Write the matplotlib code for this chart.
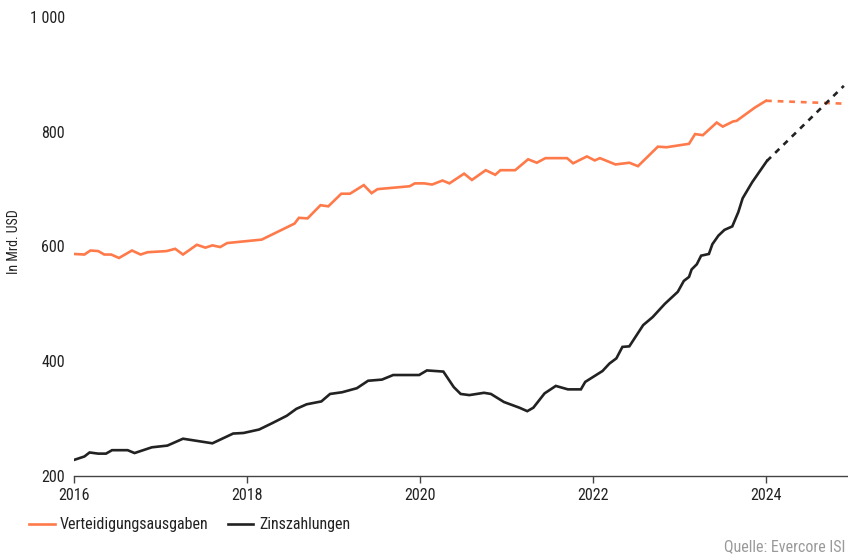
import matplotlib
matplotlib.use("Agg")
import matplotlib.pyplot as plt
from matplotlib.lines import Line2D

plt.rcParams['font.family'] = ['Liberation Sans Narrow', 'Roboto Condensed', 'DejaVu Sans']

# Verteidigungsausgaben (orange)
def_x = [2016.0, 2016.12, 2016.19, 2016.28, 2016.35, 2016.43, 2016.52, 2016.67, 2016.77, 2016.85,
         2017.07, 2017.17, 2017.26, 2017.42, 2017.52, 2017.6, 2017.69, 2017.77, 2018.17, 2018.55,
         2018.6, 2018.7, 2018.85, 2018.94, 2019.09, 2019.19, 2019.35, 2019.44, 2019.51, 2019.88,
         2019.94, 2020.05, 2020.14, 2020.26, 2020.34, 2020.51, 2020.6, 2020.76, 2020.87, 2020.93,
         2021.1, 2021.25, 2021.35, 2021.45, 2021.7, 2021.77, 2021.93, 2022.02, 2022.08, 2022.26,
         2022.42, 2022.52, 2022.75, 2022.85, 2023.11, 2023.18, 2023.27, 2023.43, 2023.5, 2023.62,
         2023.66, 2023.87, 2024.0]
def_y = [587, 586, 593, 592, 586, 586, 580, 593, 586, 590,
         592, 596, 586, 603, 598, 602, 599, 606, 612, 640,
         650, 649, 672, 670, 692, 692, 707, 693, 700, 705,
         710, 710, 708, 715, 710, 727, 716, 733, 725, 733,
         733, 752, 746, 754, 754, 745, 757, 750, 754, 743,
         746, 740, 774, 773, 779, 796, 794, 816, 809, 818,
         819, 842, 854]
def_proj_x = [2024.0, 2024.9]
def_proj_y = [854, 849]

# Zinszahlungen (schwarz)
int_x = [2016.0, 2016.12, 2016.18, 2016.28, 2016.37, 2016.44, 2016.62, 2016.7, 2016.9, 2017.08,
         2017.26, 2017.6, 2017.84, 2017.96, 2018.14, 2018.29, 2018.46, 2018.57, 2018.69, 2018.86,
         2018.96, 2019.1, 2019.27, 2019.4, 2019.56, 2019.69, 2019.99, 2020.08, 2020.27, 2020.39,
         2020.47, 2020.57, 2020.74, 2020.82, 2020.97, 2021.15, 2021.24, 2021.31, 2021.44, 2021.57,
         2021.71, 2021.86, 2021.91, 2022.11, 2022.19, 2022.27, 2022.34, 2022.42, 2022.58, 2022.69,
         2022.83, 2022.98, 2023.05, 2023.11, 2023.14, 2023.2, 2023.25, 2023.34, 2023.38, 2023.45,
         2023.52, 2023.61, 2023.68, 2023.73, 2023.84, 2024.01]
int_y = [228, 234, 241, 239, 239, 245, 245, 240, 250, 253,
         265, 257, 274, 275, 281, 292, 305, 317, 325, 330,
         343, 346, 353, 366, 368, 376, 376, 384, 382, 355,
         343, 341, 345, 343, 329, 319, 313, 319, 344, 357,
         351, 351, 364, 383, 396, 405, 425, 426, 463, 477,
         500, 521, 540, 547, 560, 569, 584, 587, 604, 619,
         629, 635, 660, 684, 712, 749]
int_proj_x = [2024.01, 2024.9]
int_proj_y = [749, 880]

year_ticks = [2016, 2018, 2020, 2022, 2024]
value_ticks = [200, 400, 600, 800, 1000]
value_labels = ['200', '400', '600', '800', '1 000']

ORANGE = '#FF7A4A'
BLACK = '#222222'
TEXT = '#222222'
FS = 11.5

fig = plt.figure(figsize=(8.48, 5.55), dpi=100)
ax = fig.add_axes([74/848, 79/555, 774/848, 459/555])

lw = 1.9
ax.plot(def_x, def_y, color=ORANGE, lw=lw, solid_joinstyle='miter')
ax.plot(def_proj_x, def_proj_y, color=ORANGE, lw=lw, dashes=(2.2, 2.2))
ax.plot(int_x, int_y, color=BLACK, lw=lw, solid_joinstyle='miter')
ax.plot(int_proj_x, int_proj_y, color=BLACK, lw=lw, dashes=(2.2, 2.2))

ax.set_xlim(2016, 2016 + 774/86.5)
ax.set_ylim(200, 1000)
for s in ['top', 'right', 'left']:
    ax.spines[s].set_visible(False)
ax.spines['bottom'].set_color('#444444')
ax.spines['bottom'].set_linewidth(1.0)

ax.set_xticks(year_ticks)
ax.set_xticklabels([str(y) for y in year_ticks])
ax.set_yticks(value_ticks)
ax.set_yticklabels(value_labels)
ax.tick_params(axis='x', direction='out', length=5, width=1.0, color='#444444',
               labelsize=FS, labelcolor=TEXT, pad=4)
ax.tick_params(axis='y', length=0, labelsize=FS, labelcolor=TEXT, pad=6.5)

fig.text(14/848, 1 - 242/555, 'In Mrd. USD', rotation=90, ha='center', va='center',
         fontsize=10, color=TEXT)

handles = [Line2D([], [], color=ORANGE, lw=lw), Line2D([], [], color=BLACK, lw=lw)]
fig.legend(handles, ['Verteidigungsausgaben', 'Zinszahlungen'], loc='center left',
           bbox_to_anchor=(29/848, 1 - 525/555), ncol=2, frameon=False,
           fontsize=FS, handlelength=1.6, handletextpad=0.35, columnspacing=1.2,
           labelcolor=TEXT, borderaxespad=0, borderpad=0.0)

fig.text(845/848, 1 - 547/555, 'Quelle: Evercore ISI', ha='right', va='center',
         fontsize=FS, color='#9a9a9a')

fig.savefig('out.png', dpi=100)
